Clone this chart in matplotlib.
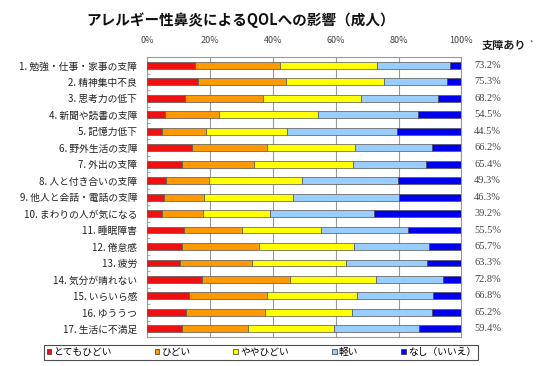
import numpy as np
import matplotlib.pyplot as plt
from matplotlib.patches import Patch

plt.rcParams['font.family'] = ['Noto Sans CJK JP', 'DejaVu Sans']

categories = ['1. 勉強・仕事・家事の支障', '2. 精神集中不良', '3. 思考力の低下',
              '4. 新聞や読書の支障', '5. 記憶力低下', '6. 野外生活の支障',
              '7. 外出の支障', '8. 人と付き合いの支障', '9. 他人と会話・電話の支障',
              '10. まわりの人が気になる', '11. 睡眠障害', '12. 倦怠感', '13. 疲労',
              '14. 気分が晴れない', '15. いらいら感', '16. ゆううつ', '17. 生活に不満足']

very_severe = [15.3, 16.1, 12.1, 5.7, 4.9, 14.2, 11.3, 6.0, 5.5, 4.9,
               11.9, 11.3, 10.5, 17.4, 13.4, 12.4, 11.3]
severe = [27.0, 28.0, 24.7, 17.3, 13.8, 23.9, 22.8, 13.7, 12.7, 12.8,
          18.4, 24.4, 22.8, 28.1, 24.7, 25.1, 20.7]
somewhat = [30.9, 31.2, 31.4, 31.5, 25.8, 28.1, 31.3, 29.6, 28.1, 21.5,
            25.2, 30.0, 30.0, 27.3, 28.7, 27.7, 27.4]
mild = [23.1, 20.0, 24.2, 31.7, 34.9, 24.3, 23.2, 30.6, 33.7, 32.9,
        27.6, 24.0, 25.6, 21.4, 24.0, 25.3, 27.1]
none_ = [3.7, 4.7, 7.6, 13.8, 20.6, 9.5, 11.4, 20.1, 20.0, 27.9,
         16.9, 10.3, 11.1, 5.8, 9.2, 9.5, 13.5]
impaired = ['73.2%', '75.3%', '68.2%', '54.5%', '44.5%', '66.2%', '65.4%', '49.3%',
            '46.3%', '39.2%', '55.5%', '65.7%', '63.3%', '72.8%', '66.8%', '65.2%', '59.4%']

series = [('とてもひどい', very_severe, '#f01010'),
          ('ひどい', severe, '#ff9900'),
          ('ややひどい', somewhat, '#ffff00'),
          ('軽い', mild, '#99ccff'),
          ('なし（いいえ）', none_, '#0000ee')]

fig = plt.figure(figsize=(5.5, 3.66), dpi=100)
ax = fig.add_axes([0.267, 0.079, 0.572, 0.765])

y = np.arange(len(categories))
left = np.zeros(len(categories))
for name, vals, color in series:
    vals = np.array(vals)
    ax.barh(y, vals, left=left, height=0.42, color=color,
            edgecolor='#555555', linewidth=0.5, label=name, zorder=3)
    left += vals

ax.set_xlim(0, 100)
ax.set_ylim(len(categories) - 0.5, -0.5)
ax.set_xticks(np.arange(0, 101, 20))
ax.set_xticklabels([f'{v}%' for v in range(0, 101, 20)], fontsize=6.5, color='#444444')
ax.xaxis.tick_top()
ax.tick_params(axis='x', length=0, pad=9)
ax.set_yticks(y)
ax.set_yticklabels(categories, fontsize=7, color='#222222')
ax.tick_params(axis='y', length=0, pad=7)
ax.set_yticks(np.arange(0.5, len(categories) - 0.5), minor=True)
ax.tick_params(axis='y', which='minor', direction='in', length=2, color='#999999')
ax.grid(axis='x', color='#999999', linewidth=0.8, zorder=0)
for s in ax.spines.values():
    s.set_color('#999999')
    s.set_linewidth(0.8)

# right-hand column
fig.text(0.876, 0.877, '支障あり', fontsize=8, fontweight='bold', color='#222222', va='center')
fig.text(0.962, 0.882, '*', fontsize=5, color='#444444', va='center')
for i, txt in enumerate(impaired):
    ax.text(1.04, i, txt, transform=ax.get_yaxis_transform(), fontsize=7.5,
            family='Liberation Serif', color='#444444', va='center', ha='left')

fig.text(0.437, 0.945, 'アレルギー性鼻炎によるQOLへの影響（成人）', fontsize=10.5,
         fontweight='bold', ha='center', va='center', color='#111111')

handles = [Patch(facecolor=c, edgecolor='#333333', linewidth=0.5, label=n) for n, _, c in series]
leg = fig.legend(handles=handles, loc='center', bbox_to_anchor=(0.475, 0.038), ncol=5,
                 fontsize=7, frameon=True, fancybox=False, handlelength=0.5, handleheight=0.5,
                 handletextpad=0.2, columnspacing=4.4, borderpad=0.25, borderaxespad=0)
leg.get_frame().set_edgecolor('#222222')
leg.get_frame().set_linewidth(0.8)

fig.savefig('out.png', dpi=100)
